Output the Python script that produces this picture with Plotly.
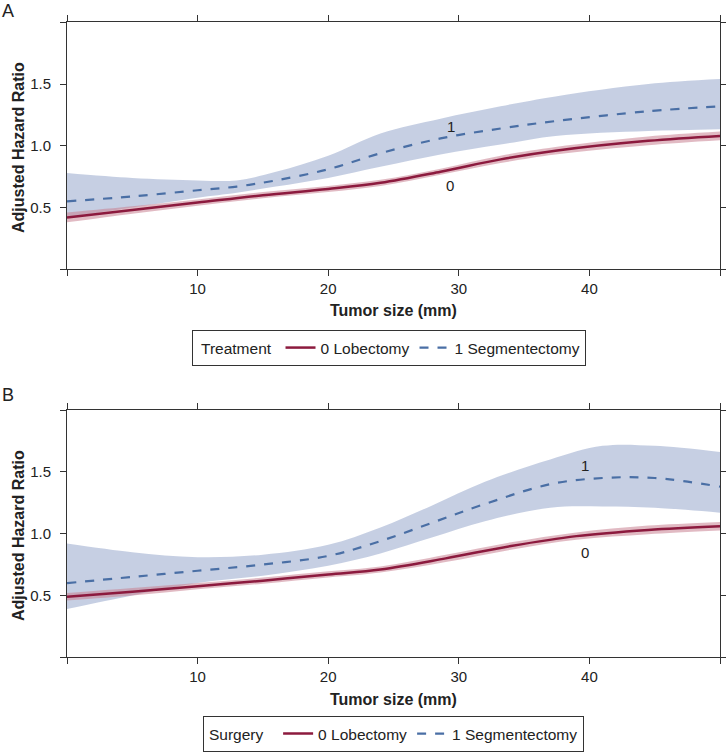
import plotly.graph_objects as go

# ---------------- Data ----------------
# Panel A (Treatment)
a_lob_x = [0, 5, 10, 15, 20, 24, 28.6, 33.2, 37.4, 44.5, 50]
a_lob_y = [0.42, 0.48, 0.54, 0.60, 0.65, 0.70, 0.79, 0.89, 0.96, 1.04, 1.08]
a_lob_up = [0.46, 0.51, 0.565, 0.625, 0.675, 0.725, 0.815, 0.92, 0.99, 1.075, 1.115]
a_lob_lo = [0.38, 0.45, 0.515, 0.575, 0.625, 0.675, 0.765, 0.86, 0.93, 1.005, 1.045]

a_seg_x = [0, 5, 10, 13, 16, 20, 24, 28.6, 33.2, 37.4, 44.5, 50]
a_seg_y = [0.55, 0.59, 0.64, 0.67, 0.72, 0.81, 0.94, 1.06, 1.14, 1.20, 1.28, 1.32]
a_seg_up = [0.78, 0.74, 0.72, 0.72, 0.79, 0.92, 1.10, 1.22, 1.32, 1.40, 1.50, 1.54]
a_seg_lo = [0.42, 0.50, 0.58, 0.62, 0.67, 0.74, 0.83, 0.93, 1.01, 1.08, 1.12, 1.135]

# Panel B (Surgery)
b_lob_x = [0, 5, 10, 15, 20, 24, 29, 34, 39, 44.5, 50]
b_lob_y = [0.49, 0.53, 0.575, 0.62, 0.67, 0.71, 0.80, 0.90, 0.98, 1.03, 1.06]
b_lob_up = [0.52, 0.56, 0.60, 0.645, 0.695, 0.735, 0.83, 0.93, 1.01, 1.065, 1.095]
b_lob_lo = [0.46, 0.50, 0.55, 0.595, 0.645, 0.685, 0.77, 0.87, 0.95, 0.995, 1.025]

b_seg_x = [0, 5, 10, 15, 20, 24, 28, 32, 37, 41, 45, 50]
b_seg_y = [0.60, 0.65, 0.70, 0.75, 0.82, 0.94, 1.09, 1.24, 1.40, 1.45, 1.45, 1.38]
b_seg_up = [0.92, 0.85, 0.81, 0.83, 0.91, 1.05, 1.23, 1.42, 1.60, 1.71, 1.71, 1.66]
b_seg_lo = [0.39, 0.50, 0.60, 0.66, 0.74, 0.84, 0.97, 1.10, 1.21, 1.22, 1.21, 1.17]

x_tickvals = [0, 10, 20, 30, 40, 50]
x_ticktext = ["", "10", "20", "30", "40", ""]
y_tickvals = [0, 0.5, 1.0, 1.5, 2.0]
y_ticktext = ["", "0.5", "1.0", "1.5", ""]

series_names = ["0 Lobectomy", "1 Segmentectomy"]
legend_titles = ["Treatment", "Surgery"]
x_title = "Tumor size (mm)"
y_title = "Adjusted Hazard Ratio"

# ---------------- Styles ----------------
RED = "#8c1a3e"
RED_BAND = "rgba(200,130,145,0.55)"
BLUE = "#4a6fa5"
BLUE_BAND = "rgba(160,175,208,0.6)"
FONT = "Liberation Sans, Arial, sans-serif"
LFS = 15.5
W, H = 726, 753

fig = go.Figure()

panels = [
    ("x", "y", "legend", a_lob_x, a_lob_y, a_lob_up, a_lob_lo, a_seg_x, a_seg_y, a_seg_up, a_seg_lo),
    ("x2", "y2", "legend2", b_lob_x, b_lob_y, b_lob_up, b_lob_lo, b_seg_x, b_seg_y, b_seg_up, b_seg_lo),
]

for xa, ya, lg, lx, ly, lu, ll, sx, sy, su, sl in panels:
    fig.add_trace(go.Scatter(x=sx, y=su, mode="lines", line=dict(width=0, shape="spline"),
                             showlegend=False, hoverinfo="skip", xaxis=xa, yaxis=ya))
    fig.add_trace(go.Scatter(x=sx, y=sl, mode="lines", line=dict(width=0, shape="spline"),
                             fill="tonexty", fillcolor=BLUE_BAND,
                             showlegend=False, hoverinfo="skip", xaxis=xa, yaxis=ya))
    fig.add_trace(go.Scatter(x=lx, y=lu, mode="lines", line=dict(width=0, shape="spline"),
                             showlegend=False, hoverinfo="skip", xaxis=xa, yaxis=ya))
    fig.add_trace(go.Scatter(x=lx, y=ll, mode="lines", line=dict(width=0, shape="spline"),
                             fill="tonexty", fillcolor=RED_BAND,
                             showlegend=False, hoverinfo="skip", xaxis=xa, yaxis=ya))
    fig.add_trace(go.Scatter(x=lx, y=ly, mode="lines", name=series_names[0],
                             line=dict(color=RED, width=2.5, shape="spline"),
                             legend=lg, xaxis=xa, yaxis=ya))
    fig.add_trace(go.Scatter(x=sx, y=sy, mode="lines", name=series_names[1],
                             line=dict(color=BLUE, width=2.2, dash="dash", shape="spline"),
                             legend=lg, xaxis=xa, yaxis=ya))

axis_common = dict(
    showline=True, linecolor="#333", linewidth=1, mirror="ticks",
    ticks="outside", ticklen=6, tickcolor="#333", tickwidth=1,
    showgrid=False, zeroline=False, automargin=False,
    tickfont=dict(family=FONT, size=15, color="#222"),
)

xdom = [67 / W, 720 / W]
ydomA = [1 - 269.3 / H, 1 - 22.3 / H]
ydomB = [1 - 657.3 / H, 1 - 410 / H]


def legend_cfg(n_space, top_px, cx_px):
    # title is reserved space; visible title text drawn as annotation for baseline alignment
    return dict(orientation="h", x=cx_px / W, xanchor="center", y=1 - top_px / H, yanchor="top",
                title=dict(text="&nbsp;" * n_space, side="left", font=dict(family=FONT, size=LFS, color="#222")),
                bordercolor="#333", borderwidth=1, bgcolor="white", traceorder="normal",
                font=dict(family=FONT, size=LFS, color="#222"), itemwidth=30)


def txt(text, x, y, xref="paper", yref="paper", size=16, angle=0, bold=False, xanchor="center"):
    return dict(text=f"<b>{text}</b>" if bold else text, x=x, y=y, xref=xref, yref=yref,
                showarrow=False, textangle=angle, xanchor=xanchor, yanchor="middle",
                font=dict(family=FONT, size=size, color="#222"))


fig.update_layout(
    width=W, height=H,
    margin=dict(l=0, r=0, t=0, b=0, autoexpand=False),
    paper_bgcolor="white", plot_bgcolor="white",
    font=dict(family=FONT, size=14, color="#222"),
    xaxis=dict(domain=xdom, range=[0, 50], tickvals=x_tickvals, ticktext=x_ticktext, anchor="y", **axis_common),
    yaxis=dict(domain=ydomA, range=[0, 2], tickvals=y_tickvals, ticktext=y_ticktext, anchor="x",
               ticklabelstandoff=6, **axis_common),
    xaxis2=dict(domain=xdom, range=[0, 50], tickvals=x_tickvals, ticktext=x_ticktext, anchor="y2", **axis_common),
    yaxis2=dict(domain=ydomB, range=[0, 2], tickvals=y_tickvals, ticktext=y_ticktext, anchor="x2",
                ticklabelstandoff=6, **axis_common),
    legend=legend_cfg(18, 330, 389),
    legend2=legend_cfg(15, 716, 393),
    annotations=[
        txt("A", 0.0, 1 - 11 / H, size=18, xanchor="left"),
        txt("B", 0.0, 1 - 395 / H, size=18, xanchor="left"),
        txt(y_title, 18 / W, 1 - 148 / H, angle=-90, bold=True),
        txt(y_title, 18 / W, 1 - 536 / H, angle=-90, bold=True),
        txt(x_title, 393 / W, 1 - 310 / H, bold=True),
        txt(x_title, 393 / W, 1 - 699 / H, bold=True),
        txt(legend_titles[0], 199 / W, 1 - 348 / H, size=LFS, xanchor="left"),
        txt(legend_titles[1], 207 / W, 1 - 734 / H, size=LFS, xanchor="left"),
        txt("1", 29.4, 1.155, "x", "y", size=15),
        txt("0", 29.3, 0.68, "x", "y", size=15),
        txt("1", 39.7, 1.55, "x2", "y2", size=15),
        txt("0", 39.7, 0.85, "x2", "y2", size=15),
    ],
)

fig.write_html("out.html", config={"displayModeBar": False},
               post_script="document.body.style.margin='0';document.body.style.padding='0';")
